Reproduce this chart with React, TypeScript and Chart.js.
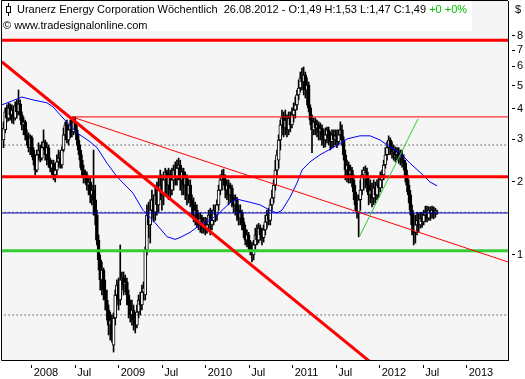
import React, { useEffect, useRef } from 'react';
import { Chart, registerables } from 'chart.js';

Chart.register(...registerables);

// Weekly candles (Sep 2007 .. 26.08.2012), time in fractional years
const LAST_WEEK_TIME = 2012.659;
const WEEK_IN_YEARS = 7 / 365.25;

const opens = [
  2.98, 3.28, 3.89, 3.67, 4.04, 3.78, 3.96, 3.67, 4.12, 3.89,
  4.20, 3.78, 3.44, 3.54, 3.13, 2.98, 2.77, 3.04, 2.71, 2.46,
  2.24, 2.59, 2.71, 2.51, 2.77, 2.93, 2.59, 2.77, 2.46, 2.28,
  2.39, 2.14, 2.24, 2.42, 2.51, 2.35, 2.71, 3.13, 3.44, 2.98,
  3.28, 3.44, 3.22, 3.54, 3.28, 2.98, 2.71, 2.46, 2.24, 2.08,
  2.14, 1.94, 2.00, 1.77, 1.85, 1.69, 1.46, 1.15, 0.954, 0.789,
  0.867, 0.717, 0.652, 0.593, 0.514, 0.539, 0.425, 0.550, 0.684, 0.752,
  0.652, 0.789, 0.804, 0.752, 0.774, 0.684, 0.622, 0.566, 0.593, 0.539,
  0.514, 0.582, 0.652, 0.622, 0.703, 0.684, 1.05, 1.46, 1.33, 1.53,
  1.69, 1.50, 1.77, 1.61, 1.85, 1.94, 1.77, 2.04, 2.20, 1.94,
  2.14, 1.85, 2.04, 2.24, 2.08, 2.28, 2.35, 2.04, 2.20, 1.94,
  2.08, 1.77, 1.94, 1.69, 1.61, 1.46, 1.53, 1.39, 1.33, 1.42,
  1.29, 1.37, 1.27, 1.33, 1.46, 1.33, 1.39, 1.53, 1.46, 1.61,
  1.85, 2.04, 2.14, 2.04, 1.85, 1.94, 1.77, 1.89, 1.72, 1.61,
  1.69, 1.53, 1.42, 1.50, 1.37, 1.27, 1.15, 1.21, 1.10, 1.05,
  1.00, 1.10, 1.21, 1.15, 1.29, 1.21, 1.18, 1.27, 1.37, 1.46,
  1.39, 1.61, 1.72, 1.94, 2.24, 2.46, 2.98, 3.44, 3.67, 3.34,
  3.60, 3.28, 3.67, 3.44, 3.78, 3.96, 4.16, 4.57, 4.88, 5.37,
  5.17, 5.52, 4.79, 5.02, 4.04, 3.60, 3.28, 3.54, 3.34, 3.44,
  3.22, 3.34, 3.13, 2.98, 3.13, 3.28, 3.04, 2.93, 3.13, 2.98,
  3.10, 2.93, 3.13, 3.28, 2.98, 2.59, 2.24, 2.35, 2.14, 2.24,
  2.04, 1.82, 1.61, 1.50, 1.69, 1.85, 2.14, 2.04, 2.20, 1.94,
  1.77, 1.85, 1.72, 1.89, 1.77, 1.94, 1.89, 2.04, 2.14, 2.35,
  2.59, 2.77, 2.98, 2.77, 2.66, 2.71, 2.59, 2.66, 2.51, 2.59,
  2.46, 2.39, 2.14, 1.94, 1.77, 1.53, 1.33, 1.24, 1.33, 1.39,
  1.33, 1.42, 1.37, 1.46, 1.50, 1.42, 1.53, 1.48, 1.53, 1.49,
  1.49,
];

const highs = [
  3.54, 4.04, 4.16, 4.24, 4.20, 4.16, 4.12, 4.28, 4.36, 4.79,
  4.36, 3.89, 3.71, 3.60, 3.28, 3.19, 3.13, 3.10, 2.77, 2.59,
  2.71, 2.90, 2.84, 2.93, 3.28, 2.98, 2.90, 2.84, 2.51, 2.46,
  2.46, 2.35, 2.59, 2.71, 2.66, 2.79, 3.34, 3.54, 3.60, 3.44,
  3.60, 3.67, 3.71, 3.71, 3.41, 3.13, 2.84, 2.59, 2.35, 2.24,
  2.20, 2.10, 2.08, 1.94, 2.71, 1.94, 1.53, 1.21, 1.00, 0.936,
  0.884, 0.789, 0.717, 0.622, 0.582, 0.566, 0.577, 0.717, 0.789, 0.804,
  1.10, 0.851, 0.851, 0.827, 0.804, 0.717, 0.652, 0.652, 0.622, 0.582,
  0.622, 0.684, 0.703, 0.752, 0.774, 1.08, 1.61, 1.65, 1.69, 1.85,
  1.77, 1.94, 2.00, 2.08, 2.24, 2.14, 2.20, 2.28, 2.24, 2.28,
  2.24, 2.28, 2.35, 2.42, 2.46, 2.51, 2.46, 2.28, 2.28, 2.20,
  2.14, 2.04, 2.04, 1.77, 1.72, 1.65, 1.61, 1.49, 1.49, 1.46,
  1.43, 1.43, 1.42, 1.53, 1.56, 1.53, 1.61, 1.61, 1.69, 1.94,
  2.14, 2.24, 2.26, 2.14, 2.04, 2.04, 1.98, 1.94, 1.77, 1.77,
  1.73, 1.61, 1.61, 1.53, 1.42, 1.33, 1.27, 1.24, 1.15, 1.13,
  1.15, 1.29, 1.33, 1.35, 1.33, 1.29, 1.33, 1.46, 1.53, 1.56,
  1.69, 1.85, 2.04, 2.46, 2.71, 3.13, 3.60, 3.96, 3.89, 3.96,
  3.78, 3.89, 3.89, 4.04, 4.24, 4.48, 4.79, 5.27, 5.68, 5.90,
  5.96, 5.68, 5.37, 5.17, 4.16, 3.78, 3.67, 3.67, 3.60, 3.54,
  3.50, 3.44, 3.28, 3.34, 3.37, 3.37, 3.22, 3.28, 3.28, 3.28,
  3.28, 3.28, 3.54, 3.44, 3.07, 2.71, 2.46, 2.42, 2.35, 2.30,
  2.14, 1.94, 1.77, 1.77, 2.04, 2.24, 2.30, 2.33, 2.28, 2.08,
  2.04, 1.98, 2.04, 2.00, 2.04, 2.08, 2.20, 2.24, 2.46, 2.77,
  2.93, 3.10, 3.04, 2.93, 2.84, 2.79, 2.77, 2.77, 2.71, 2.71,
  2.59, 2.46, 2.24, 2.04, 1.85, 1.61, 1.49, 1.46, 1.50, 1.49,
  1.50, 1.50, 1.53, 1.59, 1.59, 1.58, 1.58, 1.59, 1.58, 1.56,
  1.53,
];

const lows = [
  2.77, 3.19, 3.54, 3.57, 3.60, 3.50, 3.47, 3.60, 3.67, 3.78,
  3.60, 3.28, 3.13, 2.98, 2.84, 2.66, 2.59, 2.54, 2.35, 2.14,
  2.20, 2.46, 2.42, 2.46, 2.71, 2.46, 2.35, 2.30, 2.20, 2.14,
  2.04, 2.00, 2.14, 2.30, 2.28, 2.28, 2.66, 2.98, 2.90, 2.84,
  3.04, 3.07, 3.13, 3.19, 2.84, 2.59, 2.30, 2.14, 1.98, 1.98,
  1.85, 1.77, 1.64, 1.61, 1.46, 1.33, 1.10, 0.867, 0.717, 0.684,
  0.652, 0.593, 0.539, 0.468, 0.446, 0.437, 0.398, 0.514, 0.622, 0.593,
  0.622, 0.717, 0.684, 0.703, 0.622, 0.550, 0.529, 0.514, 0.490, 0.477,
  0.500, 0.550, 0.566, 0.593, 0.652, 0.652, 1.00, 1.18, 1.12, 1.42,
  1.37, 1.39, 1.46, 1.50, 1.69, 1.53, 1.61, 1.77, 1.77, 1.69,
  1.69, 1.77, 1.85, 1.94, 1.94, 2.04, 1.85, 1.77, 1.77, 1.69,
  1.61, 1.64, 1.58, 1.46, 1.37, 1.33, 1.30, 1.27, 1.24, 1.23,
  1.23, 1.21, 1.23, 1.27, 1.21, 1.27, 1.33, 1.37, 1.39, 1.53,
  1.77, 1.85, 1.94, 1.72, 1.69, 1.61, 1.65, 1.58, 1.50, 1.46,
  1.39, 1.33, 1.33, 1.27, 1.18, 1.10, 1.08, 1.05, 1.00, 0.936,
  0.954, 1.05, 1.10, 1.12, 1.15, 1.10, 1.13, 1.21, 1.29, 1.33,
  1.33, 1.53, 1.64, 1.85, 2.14, 2.28, 2.71, 3.13, 3.07, 3.13,
  3.07, 3.13, 3.22, 3.34, 3.54, 3.67, 3.96, 4.36, 4.70, 4.79,
  4.57, 4.44, 4.16, 3.89, 3.44, 2.64, 3.13, 3.13, 3.07, 2.98,
  2.98, 2.84, 2.77, 2.79, 2.90, 2.84, 2.71, 2.77, 2.79, 2.84,
  2.77, 2.84, 2.98, 2.84, 2.46, 2.04, 2.00, 1.98, 1.98, 1.91,
  1.69, 1.53, 1.42, 1.19, 1.53, 1.77, 1.85, 1.89, 1.82, 1.61,
  1.64, 1.58, 1.61, 1.64, 1.69, 1.73, 1.82, 1.89, 2.04, 2.28,
  2.46, 2.59, 2.59, 2.51, 2.46, 2.42, 2.46, 2.39, 2.35, 2.30,
  2.24, 2.00, 1.82, 1.64, 1.46, 1.21, 1.10, 1.12, 1.21, 1.24,
  1.29, 1.30, 1.33, 1.37, 1.37, 1.39, 1.39, 1.42, 1.41, 1.43,
  1.47,
];

const closes = [
  3.34, 3.89, 3.67, 4.04, 3.78, 3.96, 3.67, 4.12, 3.89, 4.20,
  3.78, 3.44, 3.54, 3.13, 2.98, 2.77, 3.04, 2.71, 2.46, 2.24,
  2.59, 2.71, 2.51, 2.77, 2.93, 2.59, 2.77, 2.46, 2.28, 2.39,
  2.14, 2.24, 2.42, 2.51, 2.35, 2.71, 3.13, 3.44, 2.98, 3.28,
  3.44, 3.22, 3.54, 3.28, 2.98, 2.71, 2.46, 2.24, 2.08, 2.14,
  1.94, 2.00, 1.77, 1.85, 1.69, 1.46, 1.15, 0.954, 0.789, 0.867,
  0.717, 0.652, 0.593, 0.514, 0.539, 0.468, 0.550, 0.684, 0.752, 0.652,
  0.789, 0.804, 0.752, 0.774, 0.684, 0.622, 0.566, 0.593, 0.539, 0.514,
  0.582, 0.652, 0.622, 0.703, 0.731, 1.05, 1.46, 1.33, 1.53, 1.69,
  1.50, 1.77, 1.61, 1.85, 1.94, 1.77, 2.04, 2.20, 1.94, 2.14,
  1.85, 2.04, 2.24, 2.08, 2.28, 2.35, 2.04, 2.20, 1.94, 2.08,
  1.77, 1.94, 1.69, 1.61, 1.46, 1.53, 1.39, 1.33, 1.42, 1.29,
  1.37, 1.27, 1.33, 1.46, 1.33, 1.39, 1.53, 1.46, 1.61, 1.85,
  2.04, 2.14, 2.04, 1.85, 1.94, 1.77, 1.89, 1.72, 1.61, 1.69,
  1.53, 1.42, 1.50, 1.37, 1.27, 1.15, 1.21, 1.10, 1.05, 1.00,
  1.10, 1.21, 1.15, 1.29, 1.21, 1.18, 1.27, 1.37, 1.46, 1.39,
  1.61, 1.72, 1.94, 2.24, 2.59, 2.98, 3.44, 3.67, 3.34, 3.60,
  3.28, 3.67, 3.44, 3.78, 3.96, 4.16, 4.57, 4.88, 5.37, 5.17,
  5.52, 4.79, 5.02, 4.04, 3.60, 3.28, 3.54, 3.34, 3.44, 3.22,
  3.34, 3.13, 2.98, 3.13, 3.28, 3.04, 2.93, 3.13, 2.98, 3.10,
  2.93, 3.13, 3.28, 2.98, 2.59, 2.24, 2.35, 2.14, 2.24, 2.04,
  1.82, 1.61, 1.50, 1.69, 1.85, 2.14, 2.24, 2.20, 1.94, 1.77,
  1.85, 1.72, 1.89, 1.77, 1.94, 1.89, 2.04, 2.14, 2.35, 2.59,
  2.77, 2.98, 2.77, 2.66, 2.71, 2.59, 2.66, 2.51, 2.59, 2.46,
  2.39, 2.14, 1.94, 1.77, 1.53, 1.33, 1.24, 1.33, 1.39, 1.33,
  1.42, 1.37, 1.46, 1.50, 1.42, 1.53, 1.48, 1.53, 1.49, 1.52,
  1.49,
];

// Blue moving average
const maTimes = [
  2007.659, 2007.888, 2008.015, 2008.176, 2008.245, 2008.36, 2008.521, 2008.67, 2008.751,
  2008.866, 2008.981, 2009.095, 2009.164, 2009.279, 2009.394, 2009.555, 2009.647, 2009.705,
  2009.82, 2009.934, 2010.049, 2010.164, 2010.279, 2010.359, 2010.509, 2010.624, 2010.739,
  2010.819, 2010.877, 2010.969, 2011.049, 2011.107, 2011.199, 2011.314, 2011.463, 2011.624,
  2011.774, 2011.889, 2012.003, 2012.118, 2012.233, 2012.348, 2012.497, 2012.578, 2012.659,
];
const maValues = [
  4.16, 4.48, 4.36, 4.24, 4.08, 3.67, 3.19, 2.93, 2.77,
  2.39, 2.10, 1.91, 1.80, 1.53, 1.39, 1.19, 1.16, 1.18,
  1.24, 1.33, 1.39, 1.50, 1.64, 1.70, 1.65, 1.61, 1.53,
  1.49, 1.53, 1.73, 1.98, 2.24, 2.42, 2.59, 2.77, 3.01,
  3.10, 3.10, 2.98, 2.79, 2.64, 2.39, 2.14, 2.00, 1.93,
];

// Axis range & ticks
const X_MIN = 2007.6586;
const X_MAX = 2013.4747;
const Y_MIN = 0.369;
const Y_MAX = 11.15;
const xTickValues = [2008, 2008.5, 2009, 2009.5, 2010, 2010.5, 2011, 2011.5, 2012, 2012.5, 2013];
const xTickLabels = ['2008', 'Jul', '2009', 'Jul', '2010', 'Jul', '2011', 'Jul', '2012', 'Jul', '2013'];
const yTickValues = [1, 2, 3, 4, 5, 6, 7, 8];

// Horizontal levels
const levelTopResistance = 7.68;
const levelThinResistance = 3.71;
const levelResistance = 2.1;
const levelLastClose = 1.49;
const levelSupport = 1.04;
const dottedLevels = [2.84, 1.5, 0.566];

// Trend lines: [time, price] endpoints
const thickTrendTimes = [2007.6586, 2012.233];
const thickTrendValues = [6.25, 0.288];
const thinTrendTimes = [2008.463, 2013.4747];
const thinTrendValues = [3.71, 0.936];
const greenTrendTimes = [2011.762, 2012.44];
const greenTrendValues = [1.18, 3.64];

const FONT = "'Liberation Sans', Arial, sans-serif";

function weekTime(i: number) {
  return LAST_WEEK_TIME - (closes.length - 1 - i) * WEEK_IN_YEARS;
}

function hLine(value: number, from = X_MIN, to = X_MAX) {
  return [{ x: from, y: value }, { x: to, y: value }];
}

function pairs(ts: number[], vs: number[]) {
  return ts.map((t, i) => ({ x: t, y: vs[i] }));
}

const framePlugin = {
  id: 'frame',
  beforeDraw(chart: any) {
    const { ctx, chartArea: a } = chart;
    ctx.save();
    ctx.fillStyle = '#f5f5f5';
    ctx.fillRect(a.left, a.top, a.right - a.left, a.bottom - a.top);
    ctx.restore();
  },
  afterDraw(chart: any) {
    const { ctx, chartArea: a } = chart;
    ctx.save();
    ctx.strokeStyle = '#000';
    ctx.lineWidth = 1;
    ctx.beginPath();
    ctx.moveTo(a.right, a.top - 0.5);
    ctx.lineTo(a.left - 0.5, a.top - 0.5);
    ctx.lineTo(a.left - 0.5, a.bottom + 0.5);
    ctx.lineTo(a.right, a.bottom + 0.5);
    ctx.stroke();
    ctx.restore();
  },
};

export default function App() {
  const ref = useRef<HTMLCanvasElement>(null);

  useEffect(() => {
    document.body.style.margin = '0';
    const lineBase = { type: 'line' as const, pointRadius: 0, fill: false, tension: 0, clip: 0 };
    const datasets: any[] = [
      {
        type: 'bar',
        data: closes.map((_, i) => ({ x: weekTime(i), y: [lows[i], highs[i]] })),
        backgroundColor: '#000',
        borderWidth: 0,
        barThickness: 1,
        grouped: false,
        order: 20,
      },
      {
        type: 'bar',
        data: closes.map((c, i) => ({ x: weekTime(i), y: [opens[i], c] })),
        backgroundColor: closes.map((c, i) => (c >= opens[i] ? '#ffffff' : '#000000')),
        borderColor: '#000',
        borderWidth: 1,
        borderSkipped: false,
        barThickness: 3,
        minBarLength: 1,
        grouped: false,
        order: 19,
      },
      ...dottedLevels.map((v) => ({
        ...lineBase,
        data: hLine(v, X_MIN + 0.03),
        borderColor: '#000',
        borderWidth: 1,
        borderDash: [1, 3],
        order: 15,
      })),
      { ...lineBase, data: hLine(levelLastClose), borderColor: '#0000b4', borderWidth: 1, order: 5 },
      { ...lineBase, data: pairs(maTimes, maValues), borderColor: '#0000ff', borderWidth: 1, order: 4 },
      { ...lineBase, data: hLine(levelSupport), borderColor: '#33cc33', borderWidth: 3, order: 3 },
      { ...lineBase, data: hLine(levelResistance), borderColor: '#ff0000', borderWidth: 3, order: 3 },
      { ...lineBase, data: hLine(levelTopResistance), borderColor: '#ff0000', borderWidth: 3, order: 3 },
      { ...lineBase, data: hLine(levelThinResistance, thinTrendTimes[0]), borderColor: '#ff0000', borderWidth: 1, order: 3 },
      { ...lineBase, data: pairs(thinTrendTimes, thinTrendValues), borderColor: '#ff0000', borderWidth: 1, order: 2 },
      { ...lineBase, data: pairs(thickTrendTimes, thickTrendValues), borderColor: '#ff0000', borderWidth: 3, order: 2 },
      { ...lineBase, data: pairs(greenTrendTimes, greenTrendValues), borderColor: '#33cc33', borderWidth: 1, order: 1 },
    ];

    const chart = new Chart(ref.current as HTMLCanvasElement, {
      type: 'line',
      data: { datasets },
      plugins: [framePlugin],
      options: {
        animation: false,
        responsive: false,
        events: [],
        layout: { padding: { left: 2, top: 1, right: 0, bottom: 0 } },
        plugins: { legend: { display: false }, tooltip: { enabled: false } },
        scales: {
          x: {
            type: 'linear',
            min: X_MIN,
            max: X_MAX,
            offset: false,
            afterBuildTicks: (s: any) => {
              s.ticks = xTickValues.map((v) => ({ value: v }));
            },
            afterFit: (s: any) => {
              s.height = 19;
              s.paddingLeft = 0;
              s.paddingRight = 0;
              s.paddingTop = 0;
              s.paddingBottom = 0;
            },
            grid: {
              offset: false,
              drawOnChartArea: false,
              drawTicks: true,
              tickLength: 8,
              tickColor: '#000',
              tickBorderDash: [0, 4, 4, 40],
            },
            border: { display: true, color: '#000' },
            ticks: {
              align: 'start',
              labelOffset: 2,
              padding: -1,
              autoSkip: false,
              maxRotation: 0,
              color: '#000',
              font: { family: FONT, size: 11, lineHeight: 1 },
              callback: (_v: any, i: number) => xTickLabels[i],
            },
          },
          y: {
            type: 'logarithmic',
            position: 'right',
            min: Y_MIN,
            max: Y_MAX,
            afterBuildTicks: (s: any) => {
              s.ticks = yTickValues.map((v) => ({ value: v }));
            },
            afterFit: (s: any) => {
              s.width = 17;
              s.paddingLeft = 0;
              s.paddingRight = 0;
              s.paddingTop = 0;
              s.paddingBottom = 0;
            },
            grid: {
              drawOnChartArea: false,
              drawTicks: true,
              tickLength: 7,
              tickColor: '#000',
              tickBorderDash: [0, 3, 4, 40],
            },
            border: { display: true, color: '#000' },
            ticks: {
              padding: 2,
              autoSkip: false,
              color: '#000',
              font: { family: FONT, size: 11 },
              callback: (v: any) => String(v),
            },
          },
        },
      } as any,
    });
    return () => chart.destroy();
  }, []);

  const textStyle: React.CSSProperties = {
    position: 'absolute',
    whiteSpace: 'pre',
    font: `11px ${FONT}`,
    color: '#000',
    lineHeight: '13px',
  };

  return (
    <div style={{ position: 'relative', width: 525, height: 379, background: '#fff', overflow: 'hidden' }}>
      <canvas ref={ref} width={525} height={379} style={{ position: 'absolute', left: 0, top: 0, width: 525, height: 379 }} />
      <div style={{ position: 'absolute', left: 2, top: 1, width: 470, height: 30, background: '#fff' }}>
        <div style={{ position: 'absolute', left: 6, top: 2, width: 1, height: 13, background: '#000' }} />
        <div style={{ position: 'absolute', left: 4, top: 5, width: 3, height: 5, border: '1px solid #000', background: '#fff' }} />
        <div style={{ ...textStyle, left: 15, top: 2 }}>
          {'Uranerz Energy Corporation Wöchentlich  26.08.2012 - O:1,49 H:1,53 L:1,47 C:1,49 '}
          <span style={{ color: '#00c000' }}>+0 +0%</span>
        </div>
        <div style={{ ...textStyle, left: 1, top: 18 }}>© www.tradesignalonline.com</div>
      </div>
      <div style={{ ...textStyle, left: 515, top: 3 }}>$</div>
    </div>
  );
}
